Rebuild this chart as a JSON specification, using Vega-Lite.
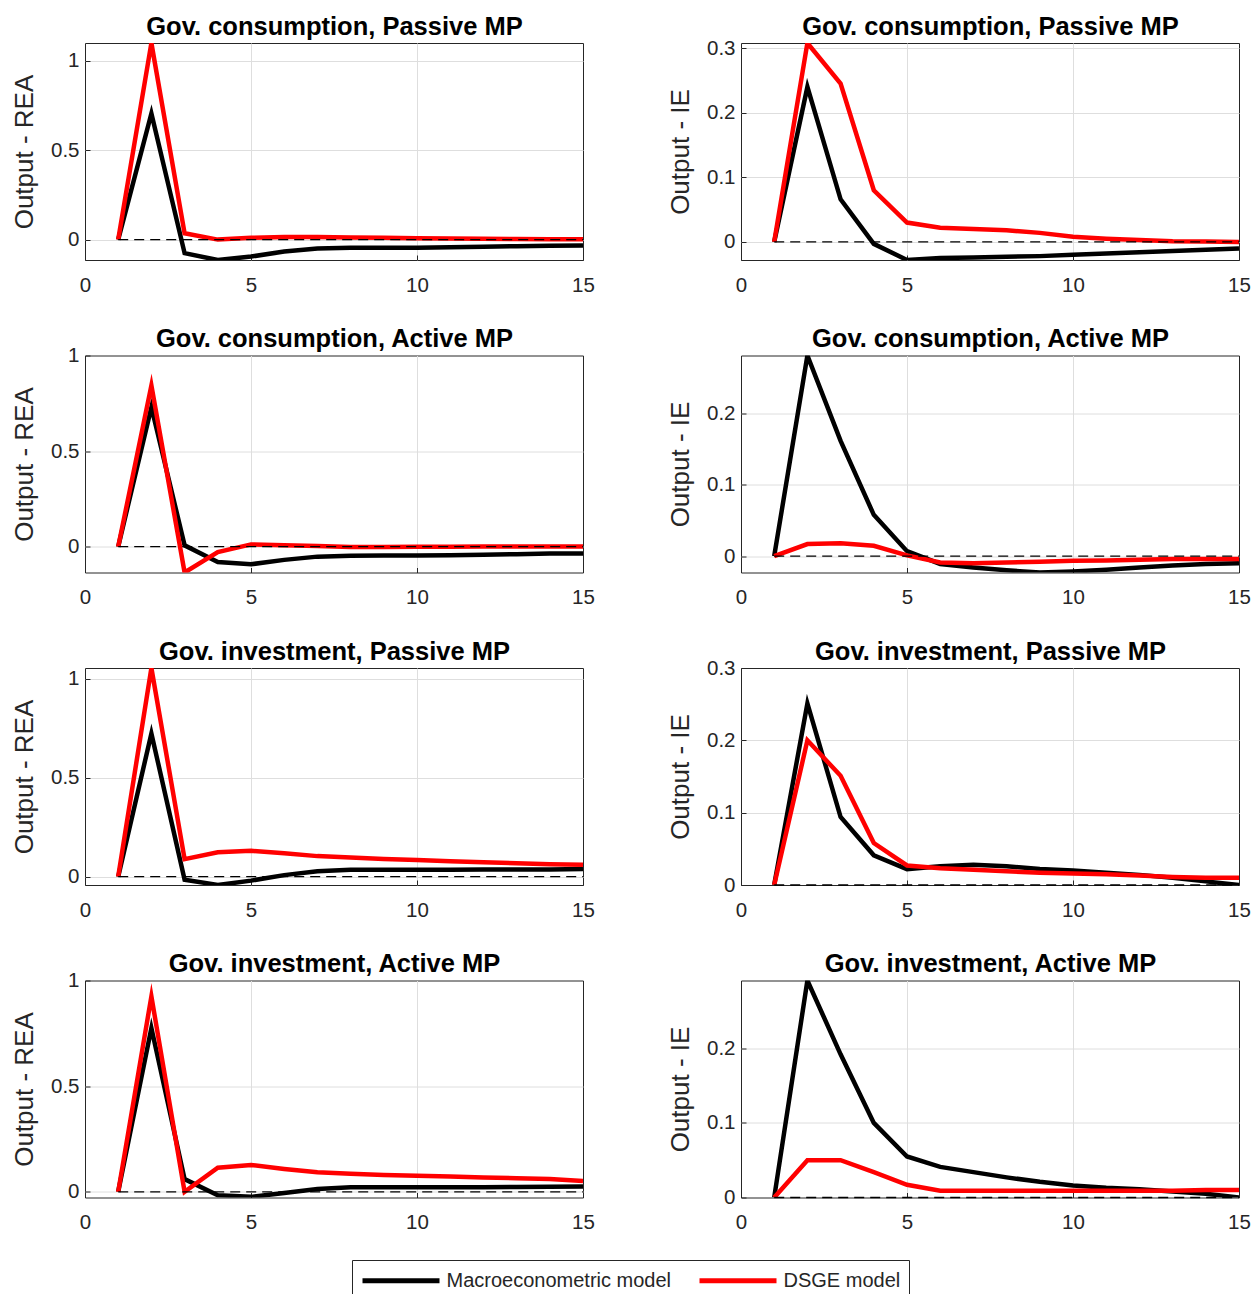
{
"$schema": "https://vega.github.io/schema/vega-lite/v6.json",
"background": "white",
"padding": {"left": 11, "top": 13, "right": 5, "bottom": 5},
"data": {"values": [
{"p":1,"t":1,"M":0,"D":0},{"p":1,"t":2,"M":0.704,"D":1.098},{"p":1,"t":3,"M":-0.076,"D":0.035},{"p":1,"t":4,"M":-0.114,"D":0.0},{"p":1,"t":5,"M":-0.095,"D":0.01},{"p":1,"t":6,"M":-0.067,"D":0.015},{"p":1,"t":7,"M":-0.05,"D":0.015},{"p":1,"t":8,"M":-0.046,"D":0.012},{"p":1,"t":9,"M":-0.045,"D":0.01},{"p":1,"t":10,"M":-0.045,"D":0.008},{"p":1,"t":11,"M":-0.043,"D":0.006},{"p":1,"t":12,"M":-0.04,"D":0.004},{"p":1,"t":13,"M":-0.037,"D":0.003},{"p":1,"t":14,"M":-0.035,"D":0.002},{"p":1,"t":15,"M":-0.033,"D":0.002},
{"p":2,"t":1,"M":0,"D":0},{"p":2,"t":2,"M":0.24,"D":0.308},{"p":2,"t":3,"M":0.066,"D":0.245},{"p":2,"t":4,"M":-0.003,"D":0.08},{"p":2,"t":5,"M":-0.028,"D":0.03},{"p":2,"t":6,"M":-0.025,"D":0.022},{"p":2,"t":7,"M":-0.024,"D":0.02},{"p":2,"t":8,"M":-0.023,"D":0.018},{"p":2,"t":9,"M":-0.022,"D":0.014},{"p":2,"t":10,"M":-0.02,"D":0.008},{"p":2,"t":11,"M":-0.018,"D":0.005},{"p":2,"t":12,"M":-0.016,"D":0.003},{"p":2,"t":13,"M":-0.014,"D":0.001},{"p":2,"t":14,"M":-0.012,"D":0.0005},{"p":2,"t":15,"M":-0.01,"D":0},
{"p":3,"t":1,"M":0,"D":0},{"p":3,"t":2,"M":0.73,"D":0.843},{"p":3,"t":3,"M":0.007,"D":-0.135},{"p":3,"t":4,"M":-0.08,"D":-0.028},{"p":3,"t":5,"M":-0.092,"D":0.012},{"p":3,"t":6,"M":-0.069,"D":0.008},{"p":3,"t":7,"M":-0.052,"D":0.003},{"p":3,"t":8,"M":-0.047,"D":-0.001},{"p":3,"t":9,"M":-0.046,"D":-0.001},{"p":3,"t":10,"M":-0.046,"D":0},{"p":3,"t":11,"M":-0.045,"D":0},{"p":3,"t":12,"M":-0.042,"D":0.001},{"p":3,"t":13,"M":-0.039,"D":0.001},{"p":3,"t":14,"M":-0.036,"D":0.001},{"p":3,"t":15,"M":-0.035,"D":0.001},
{"p":4,"t":1,"M":0,"D":0},{"p":4,"t":2,"M":0.282,"D":0.017},{"p":4,"t":3,"M":0.162,"D":0.018},{"p":4,"t":4,"M":0.058,"D":0.0145},{"p":4,"t":5,"M":0.007,"D":0.001},{"p":4,"t":6,"M":-0.011,"D":-0.009},{"p":4,"t":7,"M":-0.016,"D":-0.01},{"p":4,"t":8,"M":-0.02,"D":-0.009},{"p":4,"t":9,"M":-0.023,"D":-0.008},{"p":4,"t":10,"M":-0.0215,"D":-0.0065},{"p":4,"t":11,"M":-0.019,"D":-0.006},{"p":4,"t":12,"M":-0.016,"D":-0.005},{"p":4,"t":13,"M":-0.013,"D":-0.004},{"p":4,"t":14,"M":-0.011,"D":-0.004},{"p":4,"t":15,"M":-0.01,"D":-0.004},
{"p":5,"t":1,"M":0,"D":0},{"p":5,"t":2,"M":0.724,"D":1.055},{"p":5,"t":3,"M":-0.015,"D":0.089},{"p":5,"t":4,"M":-0.042,"D":0.123},{"p":5,"t":5,"M":-0.02,"D":0.131},{"p":5,"t":6,"M":0.008,"D":0.118},{"p":5,"t":7,"M":0.027,"D":0.104},{"p":5,"t":8,"M":0.035,"D":0.097},{"p":5,"t":9,"M":0.035,"D":0.09},{"p":5,"t":10,"M":0.035,"D":0.084},{"p":5,"t":11,"M":0.035,"D":0.078},{"p":5,"t":12,"M":0.036,"D":0.073},{"p":5,"t":13,"M":0.036,"D":0.068},{"p":5,"t":14,"M":0.036,"D":0.063},{"p":5,"t":15,"M":0.039,"D":0.06},
{"p":6,"t":1,"M":0,"D":0},{"p":6,"t":2,"M":0.251,"D":0.2},{"p":6,"t":3,"M":0.094,"D":0.151},{"p":6,"t":4,"M":0.041,"D":0.058},{"p":6,"t":5,"M":0.022,"D":0.027},{"p":6,"t":6,"M":0.026,"D":0.023},{"p":6,"t":7,"M":0.028,"D":0.021},{"p":6,"t":8,"M":0.026,"D":0.019},{"p":6,"t":9,"M":0.022,"D":0.017},{"p":6,"t":10,"M":0.02,"D":0.016},{"p":6,"t":11,"M":0.017,"D":0.015},{"p":6,"t":12,"M":0.014,"D":0.013},{"p":6,"t":13,"M":0.01,"D":0.011},{"p":6,"t":14,"M":0.005,"D":0.01},{"p":6,"t":15,"M":0,"D":0.01},
{"p":7,"t":1,"M":0,"D":0},{"p":7,"t":2,"M":0.775,"D":0.925},{"p":7,"t":3,"M":0.06,"D":0.0},{"p":7,"t":4,"M":-0.016,"D":0.114},{"p":7,"t":5,"M":-0.024,"D":0.127},{"p":7,"t":6,"M":-0.006,"D":0.108},{"p":7,"t":7,"M":0.013,"D":0.092},{"p":7,"t":8,"M":0.021,"D":0.085},{"p":7,"t":9,"M":0.022,"D":0.08},{"p":7,"t":10,"M":0.021,"D":0.076},{"p":7,"t":11,"M":0.021,"D":0.072},{"p":7,"t":12,"M":0.022,"D":0.068},{"p":7,"t":13,"M":0.023,"D":0.064},{"p":7,"t":14,"M":0.024,"D":0.06},{"p":7,"t":15,"M":0.025,"D":0.051},
{"p":8,"t":1,"M":0,"D":0},{"p":8,"t":2,"M":0.291,"D":0.05},{"p":8,"t":3,"M":0.192,"D":0.05},{"p":8,"t":4,"M":0.1,"D":0.034},{"p":8,"t":5,"M":0.055,"D":0.017},{"p":8,"t":6,"M":0.041,"D":0.009},{"p":8,"t":7,"M":0.034,"D":0.009},{"p":8,"t":8,"M":0.027,"D":0.009},{"p":8,"t":9,"M":0.021,"D":0.009},{"p":8,"t":10,"M":0.016,"D":0.009},{"p":8,"t":11,"M":0.013,"D":0.009},{"p":8,"t":12,"M":0.011,"D":0.009},{"p":8,"t":13,"M":0.008,"D":0.009},{"p":8,"t":14,"M":0.005,"D":0.01},{"p":8,"t":15,"M":0,"D":0.01}
]},
"transform": [{"fold": ["M", "D"], "as": ["m", "v"]}],
"bounds": "flush",
"columns": 2,
"spacing": {"row": 95.5, "column": 158},
"resolve": {"scale": {"color": "shared"}, "legend": {"color": "shared"}},
"concat": [
{"width": 498, "height": 217, "resolve": {"axis": {"x": "independent"}}, "layer": [
 {"transform": [{"filter": "datum.p == 1"}], "mark": {"type": "line", "strokeWidth": 4.5, "strokeMiterLimit": 10, "clip": true},
  "encoding": {"x": {"field": "t", "type": "quantitative", "scale": {"domain": [0, 15], "nice": false}, "axis": {"title": null, "values": [0, 5, 10, 15], "gridOpacity": {"condition": {"test": "datum.value == 0 || datum.value == 15", "value": 0}, "value": 1}}},
   "y": {"field": "v", "type": "quantitative", "scale": {"domain": [-0.114, 1.098], "nice": false, "zero": false}, "axis": {"title": "Output - REA", "values": [0, 0.5, 1], "format": "~g"}},
   "color": {"field": "m", "type": "nominal", "scale": {"domain": ["M", "D"], "range": ["#000000", "#ff0000"]}, "legend": {"labelExpr": "datum.label == 'M' ? 'Macroeconometric model' : 'DSGE model'"}}}},
 {"data": {"values": [{}]}, "mark": {"type": "rule", "strokeDash": [10, 6], "color": "#000000", "strokeWidth": 1.3}, "encoding": {"x": {"datum": 1, "axis": {"orient": "top", "labels": false, "grid": false, "title": "Gov. consumption, Passive MP"}}, "x2": {"datum": 15}, "y": {"datum": 0}}}
]},
{"width": 498, "height": 217, "resolve": {"axis": {"x": "independent"}}, "layer": [
 {"transform": [{"filter": "datum.p == 2"}], "mark": {"type": "line", "strokeWidth": 4.5, "strokeMiterLimit": 10, "clip": true},
  "encoding": {"x": {"field": "t", "type": "quantitative", "scale": {"domain": [0, 15], "nice": false}, "axis": {"title": null, "values": [0, 5, 10, 15], "gridOpacity": {"condition": {"test": "datum.value == 0 || datum.value == 15", "value": 0}, "value": 1}}},
   "y": {"field": "v", "type": "quantitative", "scale": {"domain": [-0.028, 0.308], "nice": false, "zero": false}, "axis": {"title": "Output - IE", "values": [0, 0.1, 0.2, 0.3], "format": "~g"}},
   "color": {"field": "m", "type": "nominal", "scale": {"domain": ["M", "D"], "range": ["#000000", "#ff0000"]}, "legend": {"labelExpr": "datum.label == 'M' ? 'Macroeconometric model' : 'DSGE model'"}}}},
 {"data": {"values": [{}]}, "mark": {"type": "rule", "strokeDash": [10, 6], "color": "#000000", "strokeWidth": 1.3}, "encoding": {"x": {"datum": 1, "axis": {"orient": "top", "labels": false, "grid": false, "title": "Gov. consumption, Passive MP"}}, "x2": {"datum": 15}, "y": {"datum": 0}}}
]},
{"width": 498, "height": 217, "resolve": {"axis": {"x": "independent"}}, "layer": [
 {"transform": [{"filter": "datum.p == 3"}], "mark": {"type": "line", "strokeWidth": 4.5, "strokeMiterLimit": 10, "clip": true},
  "encoding": {"x": {"field": "t", "type": "quantitative", "scale": {"domain": [0, 15], "nice": false}, "axis": {"title": null, "values": [0, 5, 10, 15], "gridOpacity": {"condition": {"test": "datum.value == 0 || datum.value == 15", "value": 0}, "value": 1}}},
   "y": {"field": "v", "type": "quantitative", "scale": {"domain": [-0.135, 1.0], "nice": false, "zero": false}, "axis": {"title": "Output - REA", "values": [0, 0.5, 1], "format": "~g", "gridOpacity": {"condition": {"test": "datum.value == 1", "value": 0}, "value": 1}}},
   "color": {"field": "m", "type": "nominal", "scale": {"domain": ["M", "D"], "range": ["#000000", "#ff0000"]}, "legend": {"labelExpr": "datum.label == 'M' ? 'Macroeconometric model' : 'DSGE model'"}}}},
 {"data": {"values": [{}]}, "mark": {"type": "rule", "strokeDash": [10, 6], "color": "#000000", "strokeWidth": 1.3}, "encoding": {"x": {"datum": 1, "axis": {"orient": "top", "labels": false, "grid": false, "title": "Gov. consumption, Active MP"}}, "x2": {"datum": 15}, "y": {"datum": 0}}}
]},
{"width": 498, "height": 217, "resolve": {"axis": {"x": "independent"}}, "layer": [
 {"transform": [{"filter": "datum.p == 4"}], "mark": {"type": "line", "strokeWidth": 4.5, "strokeMiterLimit": 10, "clip": true},
  "encoding": {"x": {"field": "t", "type": "quantitative", "scale": {"domain": [0, 15], "nice": false}, "axis": {"title": null, "values": [0, 5, 10, 15], "gridOpacity": {"condition": {"test": "datum.value == 0 || datum.value == 15", "value": 0}, "value": 1}}},
   "y": {"field": "v", "type": "quantitative", "scale": {"domain": [-0.023, 0.282], "nice": false, "zero": false}, "axis": {"title": "Output - IE", "values": [0, 0.1, 0.2], "format": "~g"}},
   "color": {"field": "m", "type": "nominal", "scale": {"domain": ["M", "D"], "range": ["#000000", "#ff0000"]}, "legend": {"labelExpr": "datum.label == 'M' ? 'Macroeconometric model' : 'DSGE model'"}}}},
 {"data": {"values": [{}]}, "mark": {"type": "rule", "strokeDash": [10, 6], "color": "#000000", "strokeWidth": 1.3}, "encoding": {"x": {"datum": 1, "axis": {"orient": "top", "labels": false, "grid": false, "title": "Gov. consumption, Active MP"}}, "x2": {"datum": 15}, "y": {"datum": 0}}}
]},
{"width": 498, "height": 217, "resolve": {"axis": {"x": "independent"}}, "layer": [
 {"transform": [{"filter": "datum.p == 5"}], "mark": {"type": "line", "strokeWidth": 4.5, "strokeMiterLimit": 10, "clip": true},
  "encoding": {"x": {"field": "t", "type": "quantitative", "scale": {"domain": [0, 15], "nice": false}, "axis": {"title": null, "values": [0, 5, 10, 15], "gridOpacity": {"condition": {"test": "datum.value == 0 || datum.value == 15", "value": 0}, "value": 1}}},
   "y": {"field": "v", "type": "quantitative", "scale": {"domain": [-0.042, 1.055], "nice": false, "zero": false}, "axis": {"title": "Output - REA", "values": [0, 0.5, 1], "format": "~g"}},
   "color": {"field": "m", "type": "nominal", "scale": {"domain": ["M", "D"], "range": ["#000000", "#ff0000"]}, "legend": {"labelExpr": "datum.label == 'M' ? 'Macroeconometric model' : 'DSGE model'"}}}},
 {"data": {"values": [{}]}, "mark": {"type": "rule", "strokeDash": [10, 6], "color": "#000000", "strokeWidth": 1.3}, "encoding": {"x": {"datum": 1, "axis": {"orient": "top", "labels": false, "grid": false, "title": "Gov. investment, Passive MP"}}, "x2": {"datum": 15}, "y": {"datum": 0}}}
]},
{"width": 498, "height": 217, "resolve": {"axis": {"x": "independent"}}, "layer": [
 {"transform": [{"filter": "datum.p == 6"}], "mark": {"type": "line", "strokeWidth": 4.5, "strokeMiterLimit": 10, "clip": true},
  "encoding": {"x": {"field": "t", "type": "quantitative", "scale": {"domain": [0, 15], "nice": false}, "axis": {"title": null, "values": [0, 5, 10, 15], "gridOpacity": {"condition": {"test": "datum.value == 0 || datum.value == 15", "value": 0}, "value": 1}}},
   "y": {"field": "v", "type": "quantitative", "scale": {"domain": [0, 0.3], "nice": false, "zero": false}, "axis": {"title": "Output - IE", "values": [0, 0.1, 0.2, 0.3], "format": "~g", "gridOpacity": {"condition": {"test": "datum.value == 0 || datum.value == 0.3", "value": 0}, "value": 1}}},
   "color": {"field": "m", "type": "nominal", "scale": {"domain": ["M", "D"], "range": ["#000000", "#ff0000"]}, "legend": {"labelExpr": "datum.label == 'M' ? 'Macroeconometric model' : 'DSGE model'"}}}},
 {"data": {"values": [{}]}, "mark": {"type": "rule", "strokeDash": [10, 6], "color": "#000000", "strokeWidth": 1.3}, "encoding": {"x": {"datum": 1, "axis": {"orient": "top", "labels": false, "grid": false, "title": "Gov. investment, Passive MP"}}, "x2": {"datum": 15}, "y": {"datum": 0}}}
]},
{"width": 498, "height": 217, "resolve": {"axis": {"x": "independent"}}, "layer": [
 {"transform": [{"filter": "datum.p == 7"}], "mark": {"type": "line", "strokeWidth": 4.5, "strokeMiterLimit": 10, "clip": true},
  "encoding": {"x": {"field": "t", "type": "quantitative", "scale": {"domain": [0, 15], "nice": false}, "axis": {"title": null, "values": [0, 5, 10, 15], "gridOpacity": {"condition": {"test": "datum.value == 0 || datum.value == 15", "value": 0}, "value": 1}}},
   "y": {"field": "v", "type": "quantitative", "scale": {"domain": [-0.027, 1.0], "nice": false, "zero": false}, "axis": {"title": "Output - REA", "values": [0, 0.5, 1], "format": "~g", "gridOpacity": {"condition": {"test": "datum.value == 1", "value": 0}, "value": 1}}},
   "color": {"field": "m", "type": "nominal", "scale": {"domain": ["M", "D"], "range": ["#000000", "#ff0000"]}, "legend": {"labelExpr": "datum.label == 'M' ? 'Macroeconometric model' : 'DSGE model'"}}}},
 {"data": {"values": [{}]}, "mark": {"type": "rule", "strokeDash": [10, 6], "color": "#000000", "strokeWidth": 1.3}, "encoding": {"x": {"datum": 1, "axis": {"orient": "top", "labels": false, "grid": false, "title": "Gov. investment, Active MP"}}, "x2": {"datum": 15}, "y": {"datum": 0}}}
]},
{"width": 498, "height": 217, "resolve": {"axis": {"x": "independent"}}, "layer": [
 {"transform": [{"filter": "datum.p == 8"}], "mark": {"type": "line", "strokeWidth": 4.5, "strokeMiterLimit": 10, "clip": true},
  "encoding": {"x": {"field": "t", "type": "quantitative", "scale": {"domain": [0, 15], "nice": false}, "axis": {"title": null, "values": [0, 5, 10, 15], "gridOpacity": {"condition": {"test": "datum.value == 0 || datum.value == 15", "value": 0}, "value": 1}}},
   "y": {"field": "v", "type": "quantitative", "scale": {"domain": [0, 0.291], "nice": false, "zero": false}, "axis": {"title": "Output - IE", "values": [0, 0.1, 0.2], "format": "~g", "gridOpacity": {"condition": {"test": "datum.value == 0", "value": 0}, "value": 1}}},
   "color": {"field": "m", "type": "nominal", "scale": {"domain": ["M", "D"], "range": ["#000000", "#ff0000"]}, "legend": {"labelExpr": "datum.label == 'M' ? 'Macroeconometric model' : 'DSGE model'"}}}},
 {"data": {"values": [{}]}, "mark": {"type": "rule", "strokeDash": [10, 6], "color": "#000000", "strokeWidth": 1.3}, "encoding": {"x": {"datum": 1, "axis": {"orient": "top", "labels": false, "grid": false, "title": "Gov. investment, Active MP"}}, "x2": {"datum": 15}, "y": {"datum": 0}}}
]}
],
"config": {
 "view": {"stroke": "#262626", "strokeWidth": 1},
 "font": "Liberation Sans",
 "axis": {"grid": true, "gridColor": "#dedede", "gridWidth": 1, "domain": false, "ticks": false, "labelFont": "Liberation Sans", "labelFontSize": 20.5, "labelColor": "#262626", "titleFont": "Liberation Sans", "titleFontSize": 26, "titleFontWeight": "normal", "titleColor": "#262626", "labelFlush": false, "labelOverlap": false},
 "axisBottom": {"labelPadding": 20, "ticks": true, "tickSize": -5, "tickColor": "#262626", "tickWidth": 1},
 "axisTop": {"titleFontSize": 25.5, "titleFontWeight": "bold", "titleColor": "#000000", "titlePadding": 4},
 "axisY": {"labelPadding": 11, "titlePadding": 13, "ticks": true, "tickSize": -5, "tickColor": "#262626", "tickWidth": 1},
 "legend": {"orient": "bottom", "direction": "horizontal", "title": null, "strokeColor": "#262626", "padding": 8, "symbolType": "M-3.85,0H3.85", "symbolSize": 400, "symbolOffset": 28.5, "labelOffset": 33, "labelLimit": 400, "symbolStrokeWidth": 5, "labelFont": "Liberation Sans", "labelFontSize": 20, "labelColor": "#262626", "columnPadding": 17, "offset": 26, "layout": {"bottom": {"anchor": "middle"}}}
}
}
